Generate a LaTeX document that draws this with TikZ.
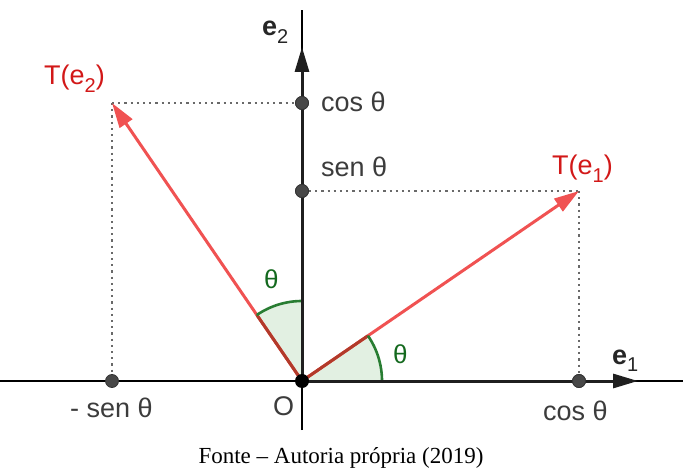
\documentclass[tikz,border=0pt]{standalone}
\usepackage{fontspec}
\setmainfont{Liberation Serif}
\setsansfont{Liberation Sans}
\usetikzlibrary{arrows.meta,calc}
\definecolor{vecred}{RGB}{240,82,82}
\definecolor{darkvec}{RGB}{178,58,42}
\definecolor{lblred}{RGB}{210,24,24}
\definecolor{angfill}{RGB}{226,240,226}
\definecolor{anggreen}{RGB}{40,125,50}
\definecolor{thgreen}{RGB}{20,105,30}
\definecolor{ptgray}{RGB}{72,72,72}
\definecolor{txtgray}{RGB}{60,60,60}
\definecolor{guidegray}{RGB}{105,105,105}
\newcommand{\lowsub}[1]{\raisebox{-0.55ex}{\fontsize{20}{20}\selectfont #1}}
\begin{document}
\begin{tikzpicture}[x=1pt,y=-1pt,
  axisthin/.style={line width=1.4pt, black},
  axisvec/.style={line width=3pt, black!88, -{Triangle[length=25pt,width=14pt]}},
  tvec/.style={line width=3pt, vecred, -{Triangle[length=25pt,width=15pt]}},
  guide/.style={guidegray, line width=2.4pt, dash pattern=on 2.2pt off 4pt},
  pt/.style={circle, fill=ptgray, draw=black!80, line width=0.8pt, inner sep=0pt, minimum size=13pt},
  origin/.style={circle, fill=black, inner sep=0pt, minimum size=14pt},
  lbl/.style={font=\sffamily\fontsize{27}{27}\selectfont, text=txtgray, inner sep=0pt},
  redlbl/.style={font=\sffamily\fontsize{27}{27}\selectfont, text=lblred, inner sep=0pt},
  thlbl/.style={font=\sffamily\fontsize{26}{26}\selectfont, text=thgreen, inner sep=0pt},
  caption/.style={font=\fontsize{23}{23}\selectfont, inner sep=0pt}
]
\useasboundingbox (0,0) rectangle (683,468);
% coordinates
\coordinate (O) at (302,381);
\coordinate (Lx) at (0,381);
\coordinate (Rx) at (683,381);
\coordinate (Ty) at (302,10);
\coordinate (By) at (302,430);
\coordinate (E1) at (638,381);
\coordinate (E2) at (302,47);
\coordinate (T1) at (579,191);
\coordinate (T2) at (112,103);
\coordinate (S1) at ($(O)!80pt!(T1)$);
\coordinate (S2) at ($(O)!80pt!(T2)$);
% thin axes
\draw[axisthin] (Lx) -- (Rx);
\draw[axisthin] (By) -- (Ty);
% angle sectors
\fill[angfill] (O) -- ++(0:80) arc[start angle=0, end angle=-34.45, radius=80] -- cycle;
\fill[angfill] (O) -- ++(-90:80) arc[start angle=-90, end angle=-124.45, radius=80] -- cycle;
% points on axes
\node[pt] (A) at (579,381) {};
\node[pt] (B) at (112,381) {};
\node[pt] (C) at (302,103) {};
\node[pt] (D) at (302,191) {};
% guides
\draw[guide] (T2) -- (C.west);
\draw[guide] (T2) -- (B.north);
\draw[guide] (D.east) -- (T1);
\draw[guide] (T1) -- (A.north);
% vectors
\draw[tvec] (O) -- (T1);
\draw[tvec] (O) -- (T2);
\draw[darkvec, line width=3pt] (O) -- (S1);
\draw[darkvec, line width=3pt] (O) -- (S2);
% arcs
\draw[anggreen, line width=2.6pt] ($(O)+(80,0)$) arc[start angle=0, end angle=-34.45, radius=80];
\draw[anggreen, line width=2.6pt] ($(O)+(0,-80)$) arc[start angle=-90, end angle=-124.45, radius=80];
% basis vectors
\draw[axisvec] (O) -- (E1);
\draw[axisvec] (O) -- (E2);
% redraw points on top
\node[pt] at (A) {};
\node[pt] at (C) {};
\node[pt] at (D) {};
\node[origin] (Onode) at (O) {};
% labels
\node[redlbl, anchor=base west] (lT2) at (44,85) {T(e\lowsub{2})};
\node[redlbl, anchor=base west] (lT1) at (552,175) {T(e\lowsub{1})};
\node[lbl, anchor=base west] (lC) at (321,112) {cos θ};
\node[lbl, anchor=base west] (lD) at (321,176) {sen θ};
\node[lbl, anchor=base west] (lA) at (543,420) {cos θ};
\node[lbl, anchor=base west] (lB) at (70,417) {- sen θ};
\node[lbl, anchor=base west] (lO) at (273,415) {O};
\node[lbl, anchor=base west, text=black!85] (lE2) at (262,36) {\textbf{e}\lowsub{2}};
\node[lbl, anchor=base west, text=black!85] (lE1) at (612,364) {\textbf{e}\lowsub{1}};
\node[thlbl, anchor=base west] (th1) at (393,363) {θ};
\node[thlbl, anchor=base west] (th2) at (264,288) {θ};
\node[caption, anchor=base] (cap) at (341,463) {Fonte – Autoria própria (2019)};
\end{tikzpicture}
\end{document}
